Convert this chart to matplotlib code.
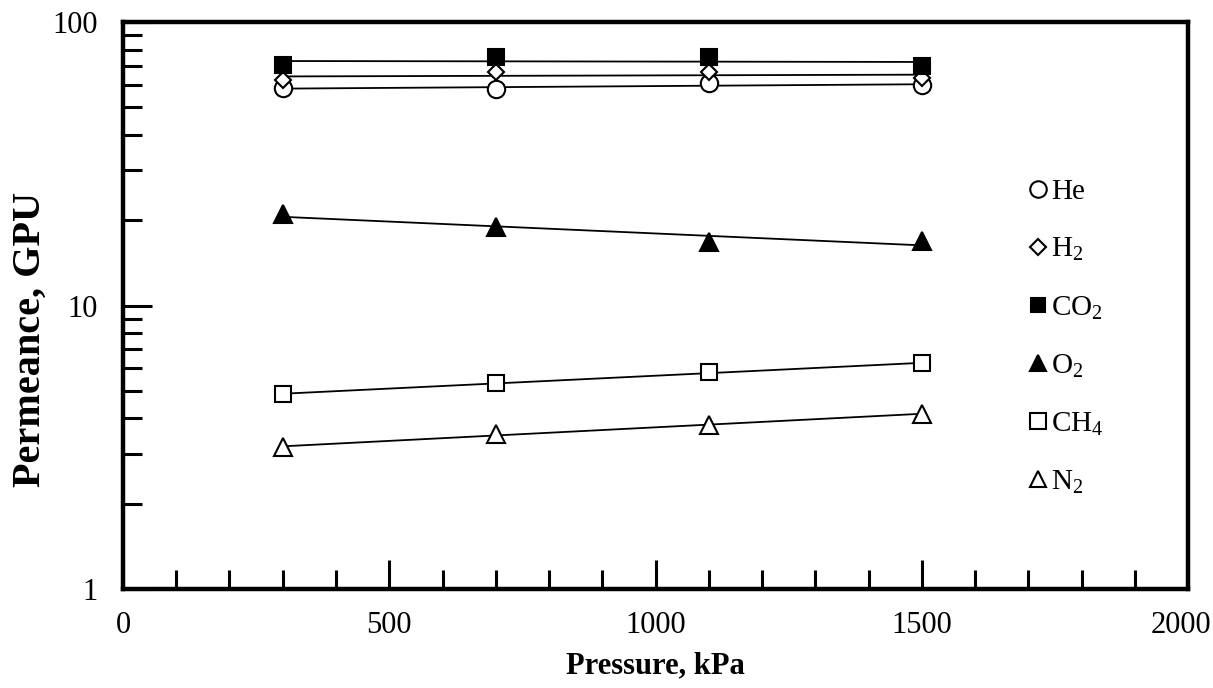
import numpy as np
import matplotlib
matplotlib.use("Agg")
import matplotlib.pyplot as plt
import matplotlib.transforms as mtrans
from matplotlib.ticker import MultipleLocator, LogLocator, NullFormatter, FixedLocator

plt.rcParams['font.family'] = 'Liberation Serif'
plt.rcParams['mathtext.fontset'] = 'custom'
plt.rcParams['mathtext.rm'] = 'Liberation Serif'
plt.rcParams['mathtext.it'] = 'Liberation Serif'

# feed pressure, kPa
pressure = [300, 700, 1100, 1500]

# permeance of each gas, GPU
he = [58.5, 58.0, 60.8, 59.9]
h2 = [62.4, 66.8, 66.5, 63.5]
co2 = [70.5, 75.1, 75.1, 69.9]
o2 = [21.0, 18.9, 16.75, 16.9]
ch4 = [4.87, 5.32, 5.81, 6.25]
n2 = [3.16, 3.53, 3.79, 4.14]

labels = ['He', 'H$_2$', 'CO$_2$', 'O$_2$', 'CH$_4$', 'N$_2$']
series = [he, h2, co2, o2, ch4, n2]
markers = ['o', 'D', 's', '^', 's', '^']
filled = [False, False, True, True, False, False]
msizes = [12.5, 8.5, 11, 12.5, 12, 12.5]

fig = plt.figure(figsize=(12.13, 6.88), dpi=100)
ax = fig.add_axes([0.1014, 0.1439, 0.878, 0.824])

x = np.array(pressure, dtype=float)
handles = []
for vals, lab, mk, fill, ms in zip(series, labels, markers, filled, msizes):
    # exponential trend line through each series
    k, b = np.polyfit(x, np.log(vals), 1)
    xs = np.array([x.min(), x.max()])
    ax.plot(xs, np.exp(b + k * xs), color='black', lw=1.3, zorder=2)
    ax.plot(x, vals, linestyle='none', marker=mk, markersize=ms,
            markerfacecolor='black' if fill else 'white',
            markeredgecolor='black', markeredgewidth=1.5, zorder=3)
    h, = ax.plot([], [], linestyle='none', marker=mk, markersize=ms * 0.95,
                 markerfacecolor='black' if fill else 'white',
                 markeredgecolor='black', markeredgewidth=1.5, label=lab)
    handles.append(h)

ax.set_yscale('log')
ax.set_xlim(0, 2000)
ax.set_ylim(1, 100)

ax.xaxis.set_major_locator(FixedLocator([0, 500, 1000, 1500, 2000]))
ax.xaxis.set_minor_locator(MultipleLocator(100))
ax.yaxis.set_major_locator(FixedLocator([1, 10, 100]))
ax.yaxis.set_minor_locator(LogLocator(base=10, subs=np.arange(2, 10)))
ax.yaxis.set_minor_formatter(NullFormatter())
ax.set_yticklabels(['1', '10', '100'])

ax.tick_params(which='major', direction='in', length=21, width=2.2,
               labelsize=22, top=False, right=False)
ax.tick_params(which='minor', direction='in', length=14, width=2.2,
               top=False, right=False)
ax.tick_params(axis='x', which='major', pad=16)
ax.tick_params(axis='y', which='major', pad=18)

# nudge the last x label so it stays inside the figure
last = ax.xaxis.get_major_ticks()[-1].label1
last.set_transform(last.get_transform() +
                   mtrans.ScaledTranslation(-5 / 72, 0, fig.dpi_scale_trans))

for s in ax.spines.values():
    s.set_linewidth(3.2)

ax.set_xlabel('Pressure, kPa', fontsize=22, fontweight='bold', labelpad=8)
ax.set_ylabel('Permeance, GPU', fontsize=29, fontweight='bold')
ax.yaxis.set_label_coords(-0.07, 0.441)

ax.legend(handles=handles, loc='upper left', bbox_to_anchor=(0.84, 0.744),
          frameon=False, fontsize=21, handlelength=0.6, handletextpad=0.15,
          labelspacing=1.06, borderaxespad=0)

fig.savefig('out.png', dpi=100)
